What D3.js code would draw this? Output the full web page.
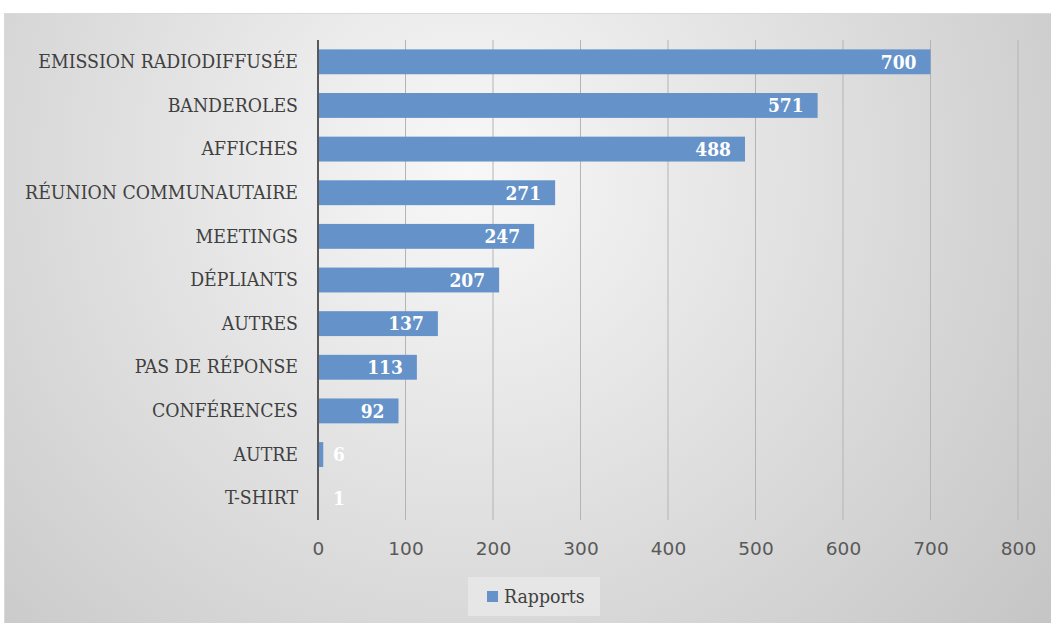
<!DOCTYPE html>
<html>
<head>
<meta charset="utf-8">
<script src="https://cdn.jsdelivr.net/npm/d3@7"></script>
<style>
  html, body { margin: 0; padding: 0; background: #ffffff; }
  svg { display: block; }
</style>
</head>
<body>
<svg id="chart" width="1051" height="623"></svg>
<script>
// Supports de communication, nombre de rapports
const categories = [
  "EMISSION RADIODIFFUSÉE", "BANDEROLES", "AFFICHES", "RÉUNION COMMUNAUTAIRE",
  "MEETINGS", "DÉPLIANTS", "AUTRES", "PAS DE RÉPONSE", "CONFÉRENCES", "AUTRE", "T-SHIRT"
];
const rapports = [700, 571, 488, 271, 247, 207, 137, 113, 92, 6, 1];
const xTicks = [0, 100, 200, 300, 400, 500, 600, 700, 800];
const seriesName = "Rapports";

const svg = d3.select("#chart");
const W = 1051, H = 623;
const serif = "'DejaVu Serif', serif";
const sans = "'DejaVu Sans', sans-serif";

// Background panel with a soft radial shading
const defs = svg.append("defs");
const grad = defs.append("radialGradient")
  .attr("id", "bg").attr("gradientUnits", "userSpaceOnUse")
  .attr("cx", 470).attr("cy", 170).attr("r", 720);
grad.append("stop").attr("offset", "0%").attr("stop-color", "#f8f8f8");
grad.append("stop").attr("offset", "100%").attr("stop-color", "#c6c6c6");

svg.append("rect")
  .attr("x", 4.5).attr("y", 13.5).attr("width", W).attr("height", H)
  .attr("fill", "url(#bg)").attr("stroke", "#d9d9d9").attr("stroke-width", 1);

const plot = { left: 318, right: 1018, top: 40, bottom: 520 };

const x = d3.scaleLinear().domain([0, 800]).range([plot.left, plot.right]);
const y = d3.scaleBand().domain(categories)
  .range([plot.top, plot.bottom]).paddingInner(0.43).paddingOuter(0.215);

// Vertical gridlines
svg.append("g").selectAll("line")
  .data(xTicks.filter(t => t > 0))
  .join("line")
  .attr("x1", d => x(d)).attr("x2", d => x(d))
  .attr("y1", plot.top).attr("y2", plot.bottom)
  .attr("stroke", "#b4b4b4").attr("stroke-width", 1);

// Bars
svg.append("g").selectAll("rect")
  .data(categories)
  .join("rect")
  .attr("x", x(0))
  .attr("y", d => y(d))
  .attr("width", (d, i) => x(rapports[i]) - x(0))
  .attr("height", y.bandwidth())
  .attr("fill", "#6592c9");

// Category axis line
svg.append("line")
  .attr("x1", x(0)).attr("x2", x(0))
  .attr("y1", plot.top).attr("y2", plot.bottom)
  .attr("stroke", "#595959").attr("stroke-width", 2);

// Category labels
const yAxis = d3.axisLeft(y).tickSize(0).tickPadding(20);
const gy = svg.append("g").attr("transform", `translate(${x(0)},0)`).call(yAxis);
gy.select(".domain").remove();
gy.selectAll("text")
  .attr("fill", "#404040")
  .style("font-family", serif)
  .style("font-stretch", "condensed")
  .style("font-size", "19.3px");

// Value axis labels
const xAxis = d3.axisBottom(x).tickValues(xTicks).tickSize(0).tickPadding(0).tickFormat(d3.format("d"));
const gx = svg.append("g").attr("transform", `translate(0,${plot.bottom + 29})`).call(xAxis);
gx.select(".domain").remove();
gx.selectAll("text")
  .attr("dy", "0.35em")
  .attr("fill", "#595959")
  .style("font-family", sans)
  .style("font-size", "18.5px");

// Data labels
svg.append("g").selectAll("text")
  .data(categories)
  .join("text")
  .each(function (d, i) {
    const v = rapports[i];
    const inside = x(v) - x(0) > 40;
    d3.select(this)
      .attr("x", inside ? x(v) - 14 : x(0) + 15)
      .attr("text-anchor", inside ? "end" : "start");
  })
  .attr("y", d => y(d) + y.bandwidth() / 2)
  .attr("dy", "0.36em")
  .attr("fill", "#ffffff")
  .style("font-family", serif)
  .style("font-stretch", "condensed")
  .style("font-weight", "bold")
  .style("font-size", "19px")
  .text((d, i) => rapports[i]);

// Legend
const legend = svg.append("g").attr("transform", "translate(468,577)");
legend.append("rect").attr("width", 132).attr("height", 39).attr("fill", "#e9e9e9").attr("opacity", 0.8);
legend.append("rect").attr("x", 19).attr("y", 14).attr("width", 11).attr("height", 11).attr("fill", "#6592c9");
legend.append("text")
  .attr("x", 36).attr("y", 19.5).attr("dy", "0.36em")
  .attr("fill", "#404040")
  .style("font-family", serif)
  .style("font-stretch", "condensed")
  .style("font-size", "19.3px")
  .text(seriesName);
</script>
</body>
</html>
